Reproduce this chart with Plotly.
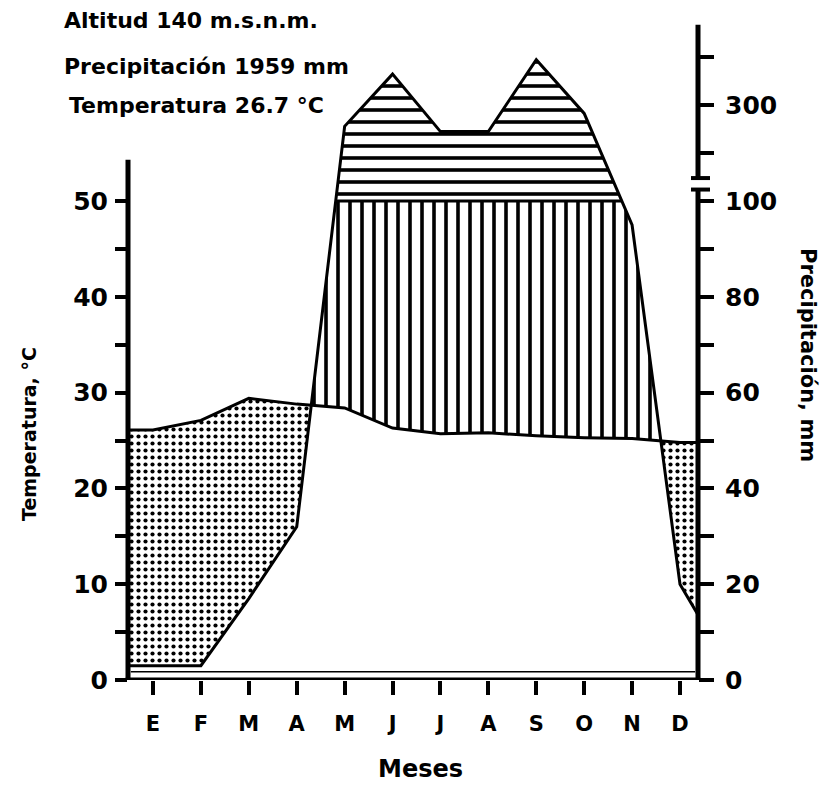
import numpy as np
import plotly.graph_objects as go

# ---------------- data ----------------
MONTHS = ["E", "F", "M", "A", "M", "J", "J", "A", "S", "O", "N", "D"]
TEMP_C = [26.1, 27.1, 29.4, 28.8, 28.4, 26.3, 25.7, 25.8, 25.5, 25.3, 25.2, 24.8]
PRECIP_MM = [3, 3, 17, 32, 256, 365, 245, 245, 395, 283, 95, 20]

TEMP_TICKS = [0, 5, 10, 15, 20, 25, 30, 35, 40, 45, 50]
TEMP_TICK_LABELS = ["0", "", "10", "", "20", "", "30", "", "40", "", "50"]
PRECIP_TICKS_MM = [0, 10, 20, 30, 40, 50, 60, 70, 80, 90, 100, 200, 300, 400]
PRECIP_TICK_LABELS = ["0", "", "20", "", "40", "", "60", "", "80", "", "100", "", "300", ""]

ALTITUD = "140"
PRECIP_TOTAL = "1959"
TEMP_MEAN = "26.7"

# ---------------- scales ----------------
X_RANGE = [-0.522, 11.376]
Y_RANGE = [0, 68.9]
FONT = "DejaVu Sans"
BODY = 8  # default page margin around the plot div


def precip_scale(p):
    p = np.asarray(p, dtype=float)
    return np.where(p <= 100, p / 2.0, 50 + (p - 100) / 20.0)


mx = np.arange(len(MONTHS), dtype=float)
# temperature: held flat to the frame edges
xt = np.concatenate([[X_RANGE[0]], mx, [X_RANGE[1]]])
t_ext = np.concatenate([[TEMP_C[0]], TEMP_C, [TEMP_C[-1]]])
# precipitation: flat at the left edge, heading to next January on the right
p_disp = precip_scale(PRECIP_MM)
xp = np.concatenate([[X_RANGE[0]], mx, [12.0]])
p_ext = np.concatenate([[p_disp[0]], p_disp, [p_disp[0]]])

grid = np.union1d(np.linspace(X_RANGE[0], X_RANGE[1], 3000), np.concatenate([mx, X_RANGE]))
T = np.interp(grid, xt, t_ext)
P = np.interp(grid, xp, p_ext)

fig = go.Figure()


def band(lower, upper, shape, size, solidity):
    fig.add_trace(go.Scatter(x=grid, y=lower, mode="lines", line=dict(width=0),
                             hoverinfo="skip", showlegend=False))
    fig.add_trace(go.Scatter(x=grid, y=upper, mode="lines", line=dict(width=0),
                             fill="tonexty", fillcolor="white",
                             fillpattern=dict(shape=shape, size=size, solidity=solidity,
                                              fgcolor="black", bgcolor="white", fgopacity=1),
                             hoverinfo="skip", showlegend=False))


# arid (stippled)
band(np.minimum(P, T), T, ".", 7, 0.28)
# humid (vertical hatching)
band(T, np.maximum(T, np.minimum(P, 50)), "|", 12, 0.3)
# perhumid (horizontal hatching)
band(np.full_like(P, 50.0), np.maximum(P, 50), "-", 12, 0.3)

# 100 mm line under perhumid part
fig.add_trace(go.Scatter(x=grid, y=np.where(P >= 50, 50.0, np.nan), mode="lines",
                         line=dict(color="black", width=3), connectgaps=False,
                         hoverinfo="skip", showlegend=False))
# temperature curve
fig.add_trace(go.Scatter(x=xt, y=t_ext, mode="lines",
                         line=dict(color="black", width=3), showlegend=False))
# precipitation curve (right axis)
fig.add_trace(go.Scatter(x=xp, y=p_ext, mode="lines", yaxis="y2", cliponaxis=True,
                         line=dict(color="black", width=3), showlegend=False))

tickfont = dict(family=FONT, size=25, color="black", weight="bold")

fig.update_layout(
    width=831 - 2 * BODY, height=791 - 2 * BODY,
    margin=dict(l=128 - BODY, r=831 - BODY - 698, t=20 - BODY, b=791 - BODY - 680, autoexpand=False),
    paper_bgcolor="white", plot_bgcolor="white",
    showlegend=False,
    xaxis=dict(range=X_RANGE, tickvals=mx.tolist(), ticktext=MONTHS,
               ticks="outside", ticklen=14, tickwidth=4, tickcolor="black",
               showline=False, showgrid=False, zeroline=False,
               tickfont=dict(family=FONT, size=21, color="black", weight="bold"),
               ticklabelstandoff=11, fixedrange=True),
    yaxis=dict(range=Y_RANGE, tickvals=TEMP_TICKS, ticktext=TEMP_TICK_LABELS,
               ticks="outside", ticklen=12, tickwidth=4, tickcolor="black",
               showline=False, showgrid=False, zeroline=False,
               tickfont=tickfont, ticklabelstandoff=2),
    yaxis2=dict(range=Y_RANGE, overlaying="y", side="right",
                tickvals=precip_scale(PRECIP_TICKS_MM).tolist(), ticktext=PRECIP_TICK_LABELS,
                ticks="outside", ticklen=15, tickwidth=4, tickcolor="black",
                showline=False, showgrid=False, zeroline=False,
                tickfont=tickfont, ticklabelstandoff=6),
)

# axis lines (with the break on the precipitation axis)
ax_line = dict(color="black", width=5)
cap_l, cap_r = (691 - 128) / 570, (710 - 128) / 570
fig.add_shape(type="line", xref="paper", yref="y", x0=-0.004, x1=1.004, y0=0, y1=0, line=ax_line)
fig.add_shape(type="line", xref="paper", yref="y", x0=0, x1=0, y0=0, y1=54.3, line=ax_line)
fig.add_shape(type="line", xref="paper", yref="y", x0=1, x1=1, y0=0, y1=51.2, line=ax_line)
fig.add_shape(type="line", xref="paper", yref="y", x0=cap_l, x1=cap_r, y0=51.2, y1=51.2, line=dict(color="black", width=4))
fig.add_shape(type="line", xref="paper", yref="y", x0=1, x1=1, y0=52.4, y1=68.4, line=ax_line)
fig.add_shape(type="line", xref="paper", yref="y", x0=cap_l, x1=cap_r, y0=52.4, y1=52.4, line=dict(color="black", width=4))
fig.add_shape(type="line", xref="paper", yref="y", x0=0.005, x1=0.995, y0=0.85, y1=0.85, line=dict(color="black", width=1.5))


def px_x(px):
    return (px - 128) / 570


def px_y(py):
    return (680 - py) / 660


hdr = dict(family=FONT, size=22, color="black", weight="bold")
fig.add_annotation(text=f"Altitud {ALTITUD} m.s.n.m.", xref="paper", yref="paper",
                   x=px_x(62), y=px_y(21), xanchor="left", yanchor="middle", showarrow=False, font=hdr)
fig.add_annotation(text=f"Precipitación {PRECIP_TOTAL} mm", xref="paper", yref="paper",
                   x=px_x(62), y=px_y(67), xanchor="left", yanchor="middle", showarrow=False, font=hdr)
fig.add_annotation(text=f"Temperatura {TEMP_MEAN} °C", xref="paper", yref="paper",
                   x=px_x(67), y=px_y(106), xanchor="left", yanchor="middle", showarrow=False, font=hdr)
fig.add_annotation(text="Temperatura, °C", xref="paper", yref="paper", textangle=-90,
                   x=px_x(29), y=px_y(434), xanchor="center", yanchor="middle", showarrow=False,
                   font=dict(family=FONT, size=19, color="black", weight="bold"))
fig.add_annotation(text="Precipitación, mm", xref="paper", yref="paper", textangle=90,
                   x=px_x(808), y=px_y(355), xanchor="center", yanchor="middle", showarrow=False,
                   font=dict(family=FONT, size=21, color="black", weight="bold"))
fig.add_annotation(text="Meses", xref="paper", yref="paper",
                   x=px_x(420), y=px_y(769), xanchor="center", yanchor="middle", showarrow=False,
                   font=dict(family=FONT, size=24, color="black", weight="bold"))

fig.write_html("out.html")
